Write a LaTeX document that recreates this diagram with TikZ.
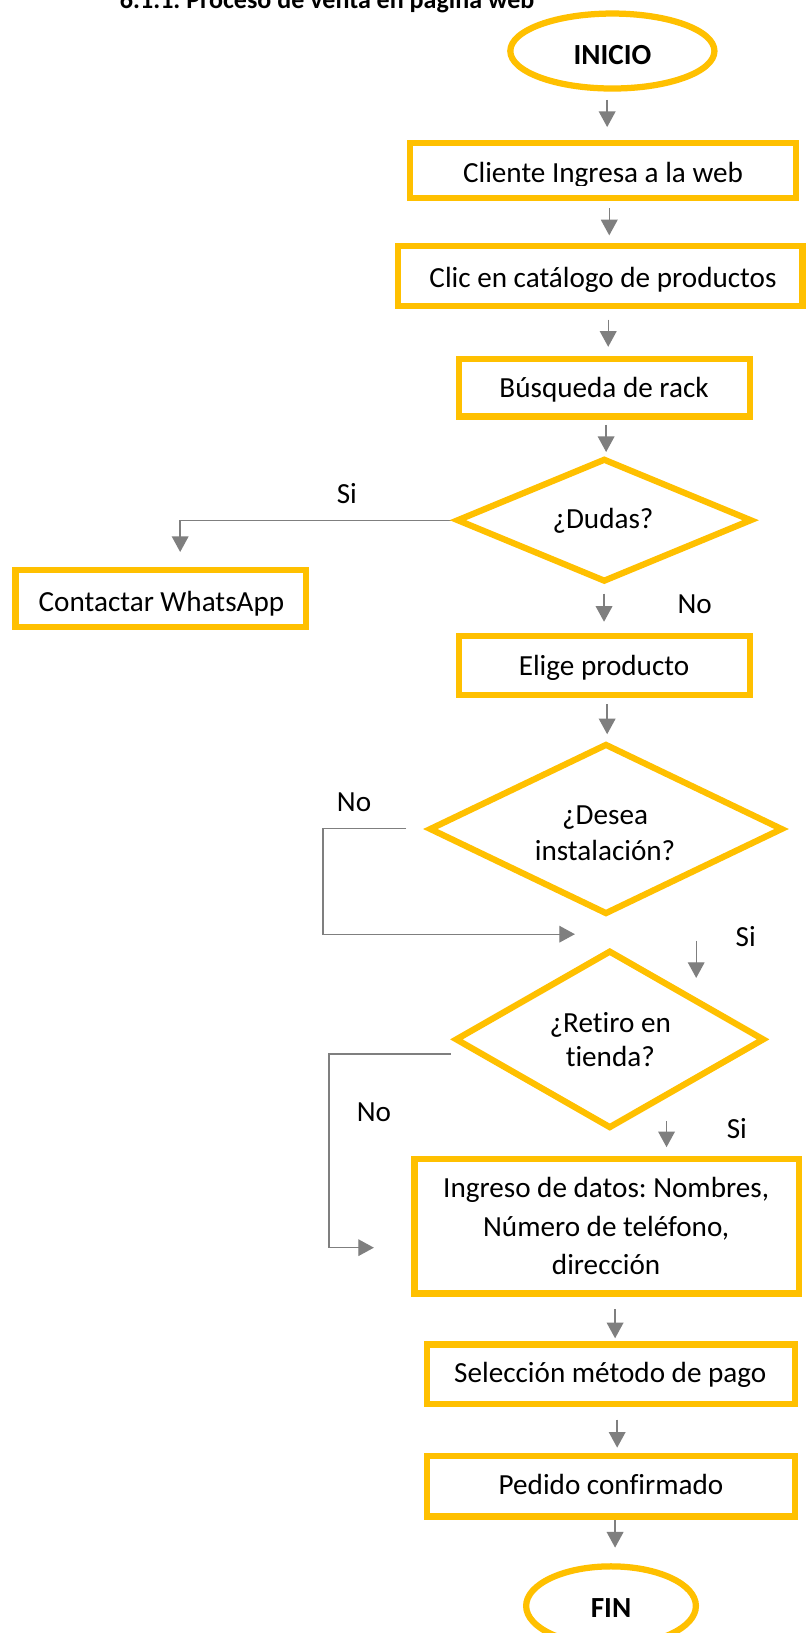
\documentclass[tikz,border=0pt]{standalone}
\usepackage{fontspec}
\setmainfont{Carlito}[Ligatures=NoCommon]
\frenchspacing
\usetikzlibrary{shapes.geometric,arrows.meta,backgrounds}
\definecolor{ybord}{HTML}{FFC000}
\definecolor{agray}{HTML}{7F7F7F}
\newcommand\mltext[2]{\fontsize{28}{#1}\selectfont\begin{tabular}[t]{@{}c@{}}#2\end{tabular}}
\begin{document}
\begin{tikzpicture}[x=1pt, y=-1pt, line join=miter,
  procbox/.style={draw=ybord, line width=6pt, rectangle, inner sep=0pt},
  decbox/.style={draw=ybord, line width=6pt, diamond, inner sep=0pt},
  termbox/.style={draw=ybord, line width=6pt, ellipse, inner sep=0pt},
  txt/.style={anchor=base, inner sep=0pt, font=\fontsize{28}{34}\selectfont},
  btxt/.style={anchor=base, inner sep=0pt, font=\bfseries\fontsize{28}{34}\selectfont},
  arr/.style={draw=agray, line width=1.3pt, -{Triangle[length=15pt,width=16pt]}},
  conn/.style={draw=agray, line width=1.3pt}]
\useasboundingbox (0,0) rectangle (773,1568);

% title (cut at top)
\node[anchor=base west, inner sep=0pt, font=\bfseries\fontsize{25}{30}\selectfont] (title) at (115,8.5) {6.1.1. Proceso de venta en página web};

% shapes
\node[termbox, minimum width=196pt, minimum height=72pt] (inicio) at (588,49) {};
\node[btxt] (tinicio) at (588,61.5) {INICIO};

\node[procbox, minimum width=370pt, minimum height=52.5pt] (b1) at (579,163.75) {};
\begin{scope}
\clip (380,130) rectangle (780,178);
\node[txt] (t1) at (579,175.4) {Cliente Ingresa a la web};
\end{scope}

\node[procbox, minimum width=388.5pt, minimum height=57.5pt] (b2) at (576.25,264.75) {};
\node[txt] (t2) at (579,275.6) {Clic en catálogo de productos};

\node[procbox, minimum width=279pt, minimum height=55pt] (b3) at (580.5,372.5) {};
\node[txt] (t3) at (580,382) {Búsqueda de rack};

\node[decbox, minimum width=283.7pt, minimum height=118.6pt] (dudas) at (580.2,499.5) {};
\node[txt] (tdudas) at (579,507) {¿Dudas?};

\node[procbox, minimum width=279pt, minimum height=55pt] (wa) at (154.5,574.5) {};
\node[txt] (twa) at (155,586.8) {Contactar WhatsApp};

\node[procbox, minimum width=279pt, minimum height=56pt] (elige) at (580.5,639) {};
\node[txt] (telige) at (580,649) {Elige producto};

\node[decbox, minimum width=339.7pt, minimum height=164pt] (desea) at (581.85,796) {};
\node[txt] (tdesea) at (581,792) {\mltext{34}{¿Desea\\instalación?}};

\node[decbox, minimum width=297pt, minimum height=171pt] (retiro) at (585.5,998) {};
\node[txt] (tretiro) at (586,991) {\mltext{33.5}{¿Retiro en\\tienda?}};

\node[procbox, minimum width=369pt, minimum height=129pt] (datos) at (582.5,1177.5) {};
\node[txt] (tdatos) at (582,1150) {\mltext{37}{Ingreso de datos: Nombres,\\Número de teléfono,\\dirección}};

\node[procbox, minimum width=353pt, minimum height=57pt] (pago) at (586.5,1319.5) {};
\node[txt] (tpago) at (586,1327.5) {Selección método de pago};

\node[procbox, minimum width=353pt, minimum height=58pt] (pedido) at (586.5,1427) {};
\node[txt] (tpedido) at (586.7,1435) {Pedido confirmado};

\node[termbox, minimum width=163pt, minimum height=76pt] (fin) at (586.7,1542) {};
\node[btxt] (tfin) at (586.7,1553) {FIN};

% labels
\node[txt] (lsi1) at (333,483.5) {Si};
\node[txt] (lno1) at (667,589) {No};
\node[txt] (lno2) at (340,779.5) {No};
\node[txt] (lsi2) at (716,909) {Si};
\node[txt] (lno3) at (359,1077) {No};
\node[txt] (lsi3) at (707.5,1093) {Si};

% connector coordinates
\coordinate (a1s) at (583,96);   \coordinate (a1e) at (583,122);
\coordinate (a2s) at (585,200);  \coordinate (a2e) at (585,226);
\coordinate (a3s) at (584,307);  \coordinate (a3e) at (584,333);
\coordinate (a4s) at (582,408);  \coordinate (a4e) at (582,434);
\coordinate (sik) at (173,499.5); \coordinate (sie) at (173,530);
\coordinate (a5s) at (580,570);  \coordinate (a5e) at (580,597);
\coordinate (a6s) at (583,676);  \coordinate (a6e) at (583,705);
\coordinate (n2s) at (390,795.4); \coordinate (n2k1) at (310,795.4);
\coordinate (n2k2) at (310,897); \coordinate (n2e) at (552,897);
\coordinate (a7s) at (668.5,903.5); \coordinate (a7e) at (668.5,939);
\coordinate (n3s) at (433,1012); \coordinate (n3k1) at (316,1012);
\coordinate (n3k2) at (316,1198); \coordinate (n3e) at (359,1198);
\coordinate (a8s) at (640,1076.5); \coordinate (a8e) at (640,1101.5);
\coordinate (a9s) at (590.6,1257); \coordinate (a9e) at (590.6,1285);
\coordinate (a10s) at (592.6,1363); \coordinate (a10e) at (592.6,1390);
\coordinate (a11s) at (590.6,1459); \coordinate (a11e) at (590.6,1486);

\begin{scope}[on background layer]
\fill[white] (0,0) rectangle (773,1568);
\draw[arr] (a1s) -- (a1e);
\draw[arr] (a2s) -- (a2e);
\draw[arr] (a3s) -- (a3e);
\draw[arr] (a4s) -- (a4e);
\draw[arr] (dudas.west) -- (sik) -- (sie);
\draw[arr] (a5s) -- (a5e);
\draw[arr] (a6s) -- (a6e);
\draw[arr] (n2s) -- (n2k1) -- (n2k2) -- (n2e);
\draw[arr] (a7s) -- (a7e);
\draw[arr] (n3s) -- (n3k1) -- (n3k2) -- (n3e);
\draw[arr] (a8s) -- (a8e);
\draw[arr] (a9s) -- (a9e);
\draw[arr] (a10s) -- (a10e);
\draw[arr] (a11s) -- (a11e);
\end{scope}
\end{tikzpicture}
\end{document}
